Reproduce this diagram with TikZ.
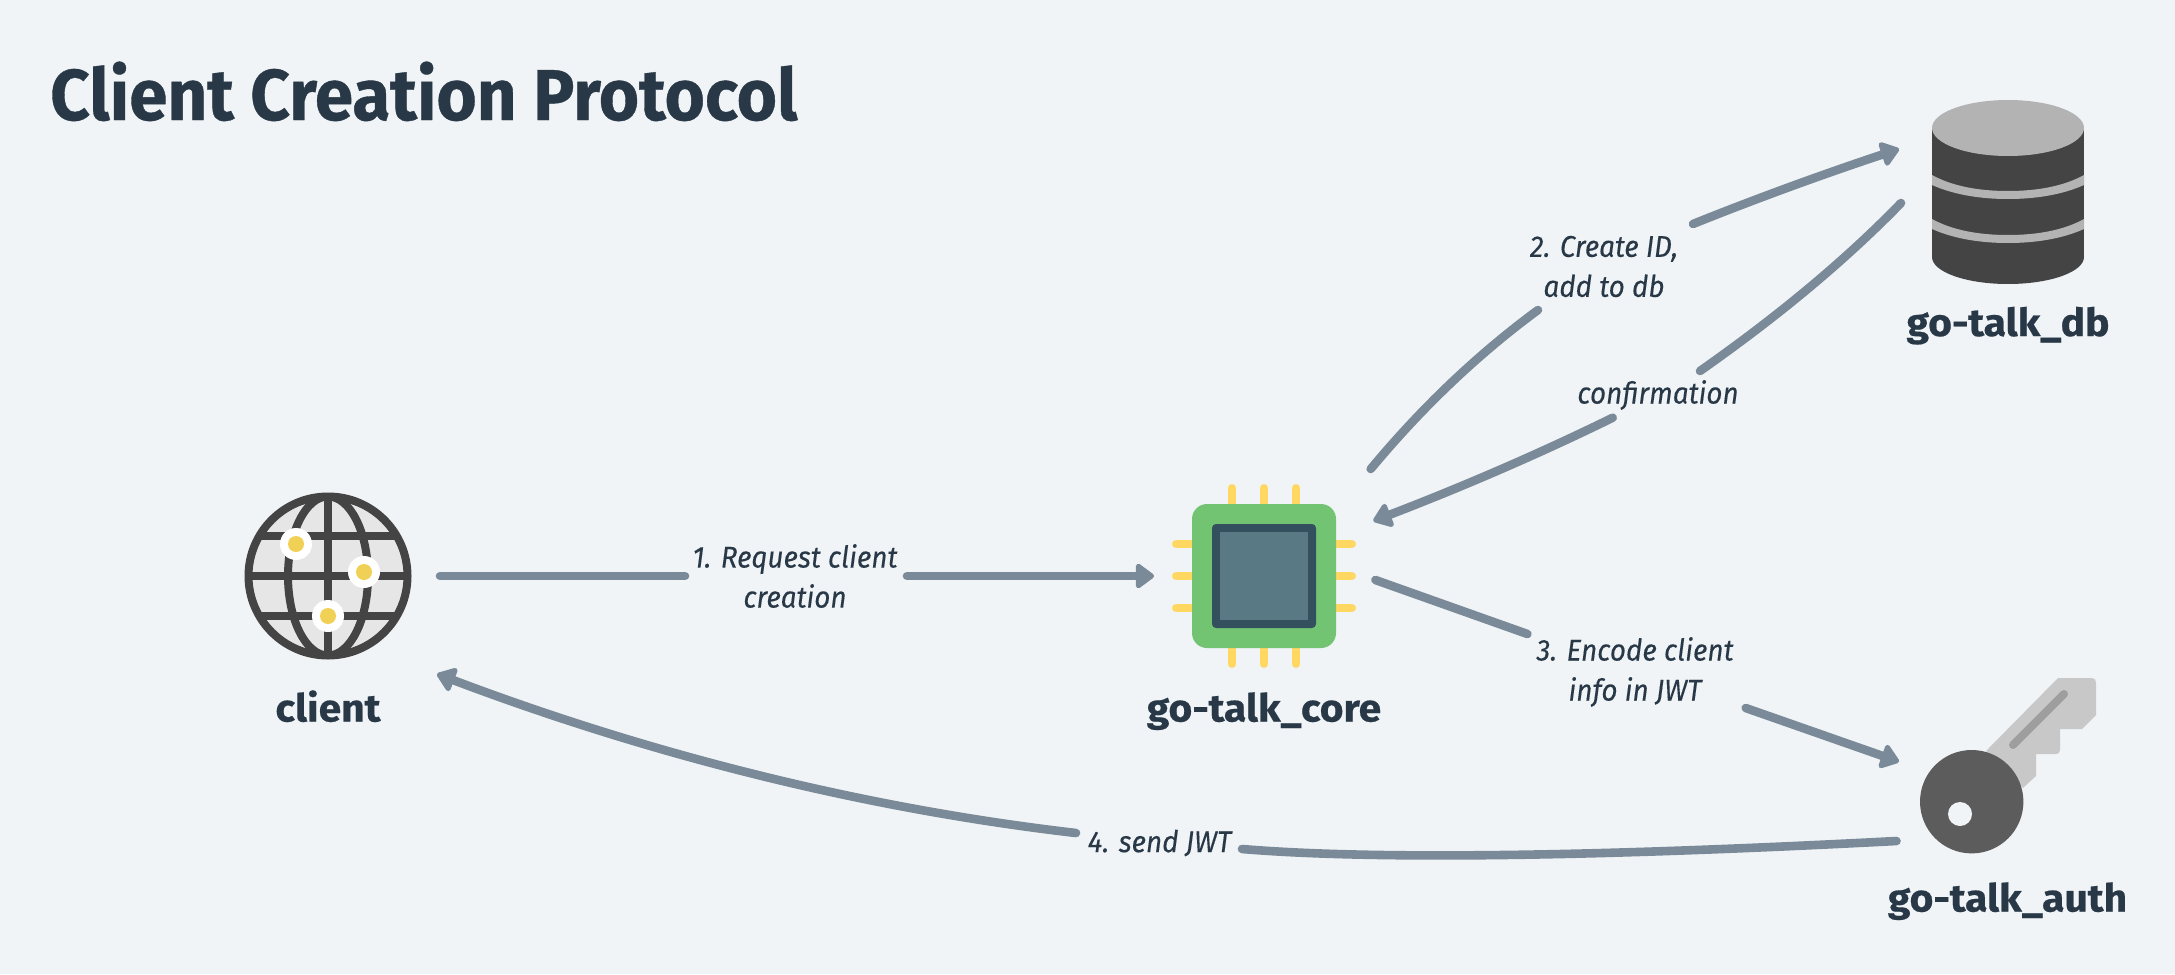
\documentclass[tikz,border=0pt]{standalone}
\usepackage{fontspec}
\setmainfont{Fira Sans}
\newfontfamily\titlefont[FakeStretch=0.96,FakeBold=0.5]{Fira Sans}
\newfontfamily\namefont[FakeStretch=1.06,FakeBold=0.5]{Fira Sans}
\newfontfamily\labfont[FakeStretch=0.93,FakeBold=0.15]{Fira Sans}
\usetikzlibrary{arrows.meta}
\definecolor{bg}{HTML}{F0F4F7}
\definecolor{ink}{HTML}{283847}
\definecolor{wire}{HTML}{7A8A99}
\definecolor{dbdark}{HTML}{444444}
\definecolor{dblight}{HTML}{B3B3B3}
\definecolor{keyblade}{HTML}{C8C8C8}
\definecolor{keyslot}{HTML}{9E9E9E}
\definecolor{keyhead}{HTML}{5C5C5C}
\definecolor{chipgreen}{HTML}{72C472}
\definecolor{chipdark}{HTML}{34505F}
\definecolor{chipcore}{HTML}{597984}
\definecolor{chippin}{HTML}{FFD761}
\definecolor{globefill}{HTML}{E6E6E6}
\definecolor{globedot}{HTML}{F0D155}
\tikzset{
  titletext/.style={anchor=base west,inner sep=0pt,text=ink,font=\titlefont\bfseries\fontsize{72}{84}\selectfont},
  nametext/.style={anchor=base,inner sep=0pt,text=ink,font=\namefont\bfseries\fontsize{38.5}{44}\selectfont},
  edgetext/.style={inner sep=0pt,align=center,text=ink,font=\labfont\itshape\fontsize{30}{40}\selectfont},
  iconbox/.style={inner sep=0pt,draw=none},
  wireline/.style={draw=wire,line width=8.6pt,line cap=round},
  wirearrow/.style={wireline,-{Triangle[length=20pt,width=28pt,round]}},
}
\begin{document}
\begin{tikzpicture}[x=1pt,y=-1pt]
\fill[bg] (0,0) rectangle (2175,974);
\useasboundingbox (0,0) rectangle (2175,974);

% title
\node[titletext] (title) at (50,120) {Client Creation Protocol};

% icon holders
\node[iconbox,minimum size=167pt] (client) at (328,576) {};
\node[iconbox,minimum size=184pt] (core) at (1264,576) {};
\node[iconbox,minimum width=152pt,minimum height=184pt] (db) at (2008,192) {};
\node[iconbox,minimum width=176pt,minimum height=176pt] (auth) at (1990,766) {};

% client globe
\fill[globefill] (client.center) circle (80);
\begin{scope}
\clip (client.center) circle (80);
\draw[dbdark,line width=8pt] (248,536) -- (408,536) (248,576) -- (408,576) (248,616) -- (408,616);
\draw[dbdark,line width=8pt] (328,496) -- (328,656);
\draw[dbdark,line width=8pt] (328,576) ellipse (40 and 79.5);
\end{scope}
\draw[dbdark,line width=8pt] (client.center) circle (79.5);
\foreach \px/\py in {296/544,364/572,328/616}{
  \fill[white] (\px,\py) circle (16);
  \fill[globedot] (\px,\py) circle (8);
}

% core chip
\foreach \v in {1232,1264,1296}{
  \draw[chippin,line width=8pt,line cap=round] (\v,488) -- (\v,664);
}
\foreach \v in {544,576,608}{
  \draw[chippin,line width=8pt,line cap=round] (1176,\v) -- (1352,\v);
}
\fill[chipgreen,rounded corners=15pt] (1192,504) rectangle (1336,648);
\fill[chipdark,rounded corners=4pt] (1212,524) rectangle (1316,628);
\fill[chipcore] (1220,532) rectangle (1308,620);

% database
\fill[dbdark] (1932,128) rectangle (2084,257);
\fill[dbdark] (2008,257) ellipse (76 and 27);
\fill[dblight] (2008,128) ellipse (76 and 28);
\fill[dblight] (1932,175) .. controls (1952,186) and (1978,191) .. (2008,191) .. controls (2038,191) and (2064,186) .. (2084,175) -- (2084,185) .. controls (2064,194) and (2038,199) .. (2008,199) .. controls (1978,199) and (1952,194) .. (1932,185) -- cycle;
\fill[dblight] (1932,219) .. controls (1952,230) and (1978,235) .. (2008,235) .. controls (2038,235) and (2064,230) .. (2084,219) -- (2084,229) .. controls (2064,238) and (2038,243) .. (2008,243) .. controls (1978,243) and (1952,238) .. (1932,229) -- cycle;

% key
\fill[keyblade] (2058,678) -- (2092,678) .. controls (2095,678) and (2096,680) .. (2096,683) -- (2096,715) -- (2082,729) -- (2060,729) -- (2060,750) .. controls (2060,753) and (2058,754) .. (2056,754) -- (2036,754) -- (2036,776) -- (2023,788) -- (1986,751) -- cycle;
\draw[keyslot,line width=8pt,line cap=round] (2013,745) -- (2064,694);
\fill[keyhead] (1971.7,801.7) circle (51.7);
\fill[bg] (1960,814) circle (12);

% names
\node[nametext] (clientname) at (328,721.5) {client};
\node[nametext] (corename) at (1264,721.5) {go-talk\_core};
\node[nametext] (dbname) at (2008,336) {go-talk\_db};
\node[nametext] (authname) at (2007.5,911.5) {go-talk\_auth};

% edge labels
\node[edgetext] (l1) at (795,576) {1. Request client\\creation};
\node[edgetext] (l2) at (1604,266.5) {2. Create ID,\\add to db};
\node[edgetext] (l2r) at (1658,395) {confirmation};
\node[edgetext] (l3) at (1635,672) {3. Encode client\\info in JWT};
\node[edgetext] (l4) at (1159.5,843) {4. send JWT};

% connector ports
\coordinate (c1a) at (440,576);
\coordinate (c1b) at (685,576);
\coordinate (c1c) at (907,576);
\coordinate (c1d) at (1154,576);
\coordinate (c2a) at (1370.7,469);
\coordinate (c2b) at (1538,310);
\coordinate (c2c) at (1693,224);
\coordinate (c2d) at (1899,149);
\coordinate (c3a) at (1901,203);
\coordinate (c3b) at (1700,371);
\coordinate (c3c) at (1612.7,417.7);
\coordinate (c3d) at (1373.3,521);
\coordinate (c4a) at (1375.4,580);
\coordinate (c4b) at (1527.4,634);
\coordinate (c4c) at (1745.7,708);
\coordinate (c4d) at (1899,761.7);
\coordinate (c5a) at (1896.5,841);
\coordinate (c5b) at (1242,849);
\coordinate (c5c) at (1076,833);
\coordinate (c5d) at (437,674);

% connectors
\draw[wireline] (c1a) -- (c1b);
\draw[wirearrow] (c1c) -- (c1d);
\draw[wireline] (c2a) .. controls (1422,407.3) and (1477.8,354.3) .. (c2b);
\draw[wirearrow] (c2c) .. controls (1755,199) and (1823.7,174) .. (c2d);
\draw[wireline] (c3a) .. controls (1846.7,259) and (1779.7,315) .. (c3b);
\draw[wirearrow] (c3c) .. controls (1540.9,453) and (1461.1,487.4) .. (c3d);
\draw[wireline] (c4a) -- (c4b);
\draw[wirearrow] (c4c) -- (c4d);
\draw[wireline] (c5a) .. controls (1588.8,857) and (1370.7,859.7) .. (c5b);
\draw[wirearrow] (c5c) .. controls (866.3,808.7) and (653.3,755.7) .. (c5d);
\end{tikzpicture}
\end{document}
